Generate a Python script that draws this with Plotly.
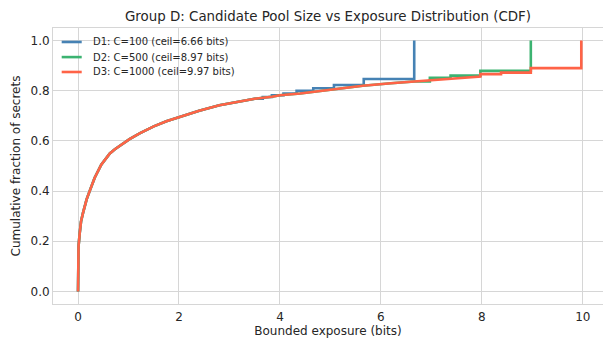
import plotly.graph_objects as go

# Shared low-exposure part of the empirical CDF (all three pools coincide here)
head_exposure = [0.0, 0.0, 0.01, 0.034, 0.06, 0.10, 0.17, 0.23, 0.33, 0.46, 0.55,
                 0.63, 0.73, 0.83, 0.93, 1.02, 1.22, 1.5, 1.75, 2.0, 2.4, 2.8,
                 3.2, 3.5]
head_cdf = [0.0, 0.128, 0.18, 0.234, 0.28, 0.314, 0.367, 0.40, 0.453, 0.505, 0.53,
            0.55, 0.567, 0.582, 0.596, 0.607, 0.63, 0.658, 0.678, 0.695, 0.72, 0.742,
            0.758, 0.768]

# Continuation of the CDF for the larger pools
mid_exposure = [3.84, 4.0, 4.4, 5.05, 5.64, 6.2, 6.66, 7.0, 7.5, 7.96]
mid_cdf = [0.776, 0.782, 0.789, 0.806, 0.82, 0.83, 0.837, 0.843, 0.85, 0.857]

# Discrete exposure levels near the ceiling (step position, CDF after the step)
d1_step_exposure = [3.66, 3.84, 4.07, 4.33, 4.66, 5.07, 5.66, 6.66]
d1_step_cdf = [0.775, 0.782, 0.789, 0.80, 0.81, 0.823, 0.847, 1.0]

d2_step_exposure = [6.97, 7.38, 7.97, 8.97]
d2_step_cdf = [0.852, 0.86, 0.879, 1.0]

d3_step_exposure = [7.97, 8.38, 8.97, 9.97]
d3_step_cdf = [0.866, 0.872, 0.89, 1.0]

series_names = ["D1: C=100 (ceil=6.66 bits)",
                "D2: C=500 (ceil=8.97 bits)",
                "D3: C=1000 (ceil=9.97 bits)"]
series_colors = ["#4682B4", "#3CB371", "#FF6347"]


def build_curve(mid_until, step_x, step_y):
    xs = list(head_exposure)
    ys = list(head_cdf)
    for x, y in zip(mid_exposure, mid_cdf):
        if x < mid_until:
            xs.append(x)
            ys.append(y)
    for sx, sy in zip(step_x, step_y):
        xs.extend([sx, sx])
        ys.extend([ys[-1], sy])
    return xs, ys


curves = [
    build_curve(3.6, d1_step_exposure, d1_step_cdf),
    build_curve(6.9, d2_step_exposure, d2_step_cdf),
    build_curve(7.965, d3_step_exposure, d3_step_cdf),
]

fig = go.Figure()
for (xs, ys), name, color in zip(curves, series_names, series_colors):
    fig.add_trace(go.Scatter(x=xs, y=ys, mode="lines", name=name,
                             line=dict(color=color, width=2.6), showlegend=False))

font_family = "DejaVu Sans"
text_color = "#262626"
grid_color = "#d6d6d6"

# Frameless legend in the upper-left corner of the axes
legend_rows_y = [0.9493, 0.8946, 0.8406]
for name, color, ry in zip(series_names, series_colors, legend_rows_y):
    fig.add_shape(type="line", xref="paper", yref="paper",
                  x0=0.0158, x1=0.0522, y0=ry, y1=ry,
                  line=dict(color=color, width=2.6))
    fig.add_annotation(xref="paper", yref="paper", x=0.0685, y=ry,
                       xanchor="left", yanchor="middle", showarrow=False,
                       text=name, font=dict(size=10, color=text_color))

fig.update_layout(
    width=603, height=338,
    margin=dict(l=53, r=0, t=28, b=34),
    paper_bgcolor="white", plot_bgcolor="white",
    font=dict(family=font_family, color=text_color, size=12),
    title=dict(text="Group D: Candidate Pool Size vs Exposure Distribution (CDF)",
               x=0.5, xref="paper", y=1 - 16 / 338, yref="container",
               xanchor="center", yanchor="middle",
               font=dict(size=13.4, color=text_color)),
    showlegend=False,
)
fig.update_xaxes(range=[-0.496, 10.40], tickvals=[0, 2, 4, 6, 8, 10],
                 showgrid=True, gridcolor=grid_color, gridwidth=1,
                 zeroline=False, showline=True, linecolor=grid_color, mirror=True,
                 ticks="", ticklabelstandoff=2,
                 tickfont=dict(size=12, color=text_color),
                 title=dict(text="Bounded exposure (bits)", standoff=6,
                            font=dict(size=12, color=text_color)))
fig.update_yaxes(range=[-0.05, 1.05], tickvals=[0, 0.2, 0.4, 0.6, 0.8, 1.0],
                 tickformat=".1f",
                 showgrid=True, gridcolor=grid_color, gridwidth=1,
                 zeroline=False, showline=True, linecolor=grid_color, mirror=False,
                 ticks="", tickfont=dict(size=12, color=text_color),
                 title=dict(text="Cumulative fraction of secrets", standoff=7,
                            font=dict(size=12, color=text_color)))

fig.write_html("out.html")
